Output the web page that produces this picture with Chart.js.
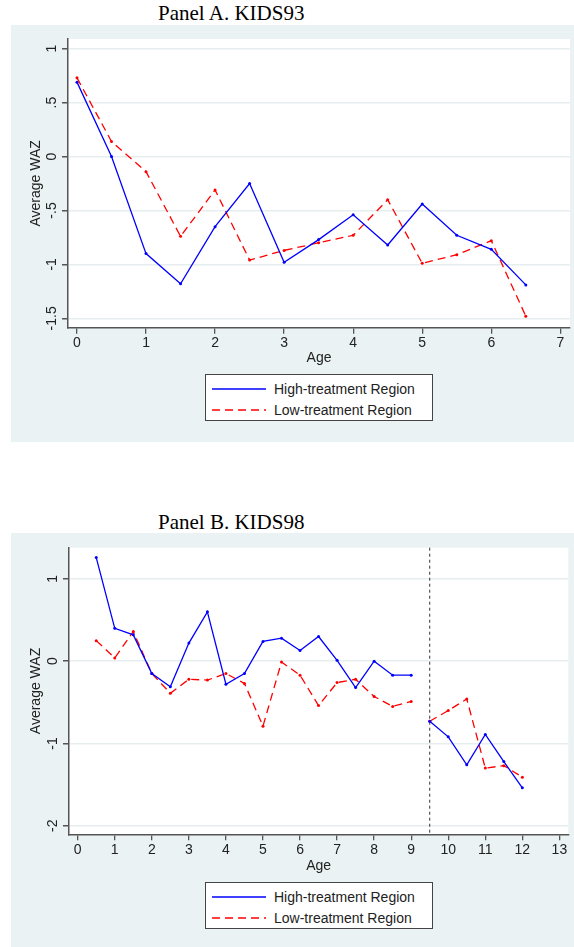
<!DOCTYPE html>
<html>
<head>
<meta charset="utf-8">
<script src="https://cdn.jsdelivr.net/npm/chart.js@4.4.0/dist/chart.umd.min.js"></script>
<style>
  body { margin: 0; width: 574px; height: 947px; position: relative; overflow: hidden; background: #fff;
         font-family: "Liberation Sans", Arial, sans-serif; }
  .title { position: absolute; left: 158px; font: 21px/21px "Liberation Serif", "Times New Roman", serif; color: #000; white-space: nowrap; }
  .panel { position: absolute; left: 11px; width: 563px; background: #eaf2f3; }
  .panel canvas { position: absolute; left: 0; top: 0; }
  .legend { position: absolute; left: 194px; width: 226px; height: 45px; border: 1px solid #444; background: #fff;
            font-size: 14px; color: #222; }
  .legend .row { position: absolute; left: 0; height: 16px; line-height: 16px; white-space: nowrap; }
  .legend svg { position: absolute; left: 5px; top: 0; }
  .legend span { position: absolute; left: 68px; top: 0; }
</style>
</head>
<body>
<div class="title" style="top:3px">Panel A. KIDS93</div>
<div class="panel" id="panelA" style="top:25px;height:417px">
  <canvas id="chartA" width="563" height="342"></canvas>
  <div class="legend" id="legendA" style="top:349px"></div>
</div>
<div class="title" style="top:512px">Panel B. KIDS98</div>
<div class="panel" id="panelB" style="top:533px;height:414px">
  <canvas id="chartB" width="563" height="342"></canvas>
  <div class="legend" id="legendB" style="top:349px"></div>
</div>
<script>
// Gjennomsnittlig WAZ etter alder, to regioner, to runder (KIDS93 / KIDS98).

const SERIES = ["High-treatment Region", "Low-treatment Region"];
const COLORS = ["#0000ff", "#ff0000"];
const DASHES = [[], [8, 5]];

// Panel A
const AGES_A = [0, 0.5, 1, 1.5, 2, 2.5, 3, 3.5, 4, 4.5, 5, 5.5, 6, 6.5];
const HIGH_A = [0.69, 0.00, -0.90, -1.18, -0.65, -0.25, -0.98, -0.77, -0.54, -0.82, -0.44, -0.73, -0.86, -1.19];
const LOW_A  = [0.73, 0.14, -0.14, -0.74, -0.31, -0.96, -0.87, -0.80, -0.73, -0.40, -0.99, -0.91, -0.78, -1.48];
const XTICKS_A = [0, 1, 2, 3, 4, 5, 6, 7];
const YTICKS_A = [1, 0.5, 0, -0.5, -1, -1.5];
const YLABELS_A = ["1", ".5", "0", "-.5", "-1", "-1.5"];

// Panel B
const AGES_B = [0.5, 1, 1.5, 2, 2.5, 3, 3.5, 4, 4.5, 5, 5.5, 6, 6.5, 7, 7.5, 8, 8.5, 9,
                9.5, 10, 10.5, 11, 11.5, 12];
const HIGH_B = [1.26, 0.40, 0.32, -0.15, -0.31, 0.22, 0.60, -0.28, -0.15, 0.24, 0.28, 0.13, 0.30, 0.01, -0.32, 0.00, -0.17, -0.17,
                -0.73, -0.92, -1.26, -0.89, -1.22, -1.54];
const LOW_B  = [0.25, 0.04, 0.36, -0.15, -0.39, -0.22, -0.23, -0.15, -0.27, -0.79, -0.01, -0.17, -0.54, -0.26, -0.22, -0.43, -0.55, -0.49,
                -0.73, -0.60, -0.46, -1.30, -1.27, -1.41];
const XTICKS_B = [0, 1, 2, 3, 4, 5, 6, 7, 8, 9, 10, 11, 12, 13];
const YTICKS_B = [1, 0, -1, -2];
const YLABELS_B = ["1", "0", "-1", "-2"];
const XLINE_B = 9.5;     // stiplet skillelinje
const BREAK_B = 9;       // ingen linje mellom 9 og 9.5

const FONT = { family: "'Liberation Sans', Arial, sans-serif", size: 14 };
const AXIS = "#555";
const TEXT = "#222";

const whiteArea = {
  id: "whiteArea",
  beforeDraw(chart) {
    const { ctx, chartArea: a } = chart;
    ctx.save();
    ctx.fillStyle = "#fff";
    ctx.fillRect(a.left, a.top, a.right - a.left, a.bottom - a.top);
    ctx.restore();
  },
};

const vline = {
  id: "vline",
  beforeDatasetsDraw(chart, args, opts) {
    if (opts.value == null) return;
    const { ctx, chartArea: a } = chart;
    const x = chart.scales.x.getPixelForValue(opts.value);
    ctx.save();
    ctx.strokeStyle = "#333";
    ctx.lineWidth = 1;
    ctx.setLineDash([3, 3]);
    ctx.beginPath();
    ctx.moveTo(x, a.top);
    ctx.lineTo(x, a.bottom);
    ctx.stroke();
    ctx.restore();
  },
};

function makeChart(id, p) {
  const ds = [p.high, p.low].map((vals, k) => ({
    label: SERIES[k],
    data: p.ages.map((a, i) => ({ x: a, y: vals[i] })),
    borderColor: COLORS[k],
    backgroundColor: COLORS[k],
    borderWidth: 1.3,
    borderDash: DASHES[k],
    pointRadius: 1.5,
    pointBorderWidth: 0,
    tension: 0,
    spanGaps: true,
    segment: { borderColor: (c) => (p.breakAfter != null && c.p0.parsed.x === p.breakAfter ? "transparent" : undefined) },
  }));

  return new Chart(document.getElementById(id), {
    type: "line",
    data: { datasets: ds },
    options: {
      responsive: false,
      animation: false,
      devicePixelRatio: 1,
      layout: { padding: { top: p.padTop, right: p.padRight, bottom: 0, left: 0 } },
      plugins: { legend: { display: false }, tooltip: { enabled: false }, vline: { value: p.xline } },
      scales: {
        x: {
          type: "linear", min: p.xMin, max: p.xMax,
          afterBuildTicks: (s) => { s.ticks = p.xTicks.map((v) => ({ value: v })); },
          afterFit: (s) => { s.height = p.xHeight; },
          grid: { drawOnChartArea: false, tickLength: 6, tickColor: AXIS, lineWidth: 1.3 },
          border: { color: AXIS, width: 1.5 },
          ticks: { color: TEXT, font: FONT, padding: 1, maxRotation: 0, autoSkip: false },
          title: { display: true, text: "Age", color: TEXT, font: FONT, padding: 0 },
        },
        y: {
          type: "linear", min: p.yMin, max: p.yMax,
          afterBuildTicks: (s) => { s.ticks = p.yTicks.map((v) => ({ value: v })); },
          afterFit: (s) => { s.width = p.yWidth; },
          grid: { color: "#e6eef0", lineWidth: 1.5, tickLength: 6, tickColor: AXIS },
          border: { color: AXIS, width: 1.5 },
          ticks: {
            color: TEXT, font: FONT, minRotation: 90, maxRotation: 90, crossAlign: "center",
            padding: p.yPad, autoSkip: false,
            callback: (v, i) => p.yLabels[i],
          },
          title: { display: true, text: "Average WAZ", color: TEXT, font: FONT, padding: { top: 16.5, bottom: 0 } },
        },
      },
    },
    plugins: [whiteArea, vline],
  });
}

function renderLegend(id) {
  const rows = [13.7, 34.5];
  document.getElementById(id).innerHTML = SERIES.map((name, k) => `
    <div class="row" style="top:${rows[k] - 8}px;width:100%">
      <svg width="56" height="16"><line x1="1" y1="8" x2="55" y2="8" stroke="${COLORS[k]}" stroke-width="1.3"
        stroke-dasharray="${DASHES[k].join(",")}"/></svg>
      <span>${name}</span>
    </div>`).join("");
}

makeChart("chartA", {
  ages: AGES_A, high: HIGH_A, low: LOW_A,
  xTicks: XTICKS_A, yTicks: YTICKS_A, yLabels: YLABELS_A,
  xMin: -0.13, xMax: 7.14, yMin: -1.587, yMax: 1.09,
  padTop: 14, padRight: 4, xHeight: 39.3, yWidth: 57, yPad: -2,
  xline: null, breakAfter: null,
});

makeChart("chartB", {
  ages: AGES_B, high: HIGH_B, low: LOW_B,
  xTicks: XTICKS_B, yTicks: YTICKS_B, yLabels: YLABELS_B,
  xMin: -0.235, xMax: 13.24, yMin: -2.105, yMax: 1.38,
  padTop: 14.7, padRight: 5.7, xHeight: 40.7, yWidth: 58, yPad: 3.8,
  xline: XLINE_B, breakAfter: BREAK_B,
});

renderLegend("legendA");
renderLegend("legendB");
</script>
</body>
</html>
